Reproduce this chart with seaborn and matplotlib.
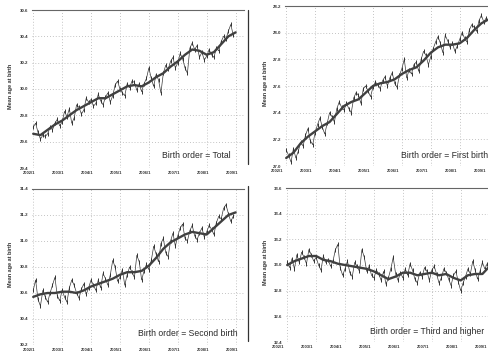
import numpy as np
import pandas as pd
import matplotlib
matplotlib.use("Agg")
import matplotlib.pyplot as plt
import matplotlib.transforms as mtransforms
import seaborn as sns
from matplotlib.lines import Line2D

sns.set_theme(style="white")
plt.rcParams['font.family'] = ['Liberation Sans', 'DejaVu Sans']

# ---------------- data ----------------
tick_labels = ["2002/1", "2003/1", "2004/1", "2005/1", "2006/1", "2007/1", "2008/1", "2009/1"]
tick_months = [0, 12, 24, 36, 48, 60, 72, 84]
trend_months = list(range(0, 85, 3))

total_monthly = [29.71, 29.74, 29.67, 29.62, 29.65, 29.64, 29.66, 29.71, 29.69, 29.74, 29.77, 29.72,
                 29.75, 29.83, 29.79, 29.85, 29.74, 29.78, 29.88, 29.86, 29.81, 29.84, 29.93, 29.90,
                 29.92, 29.87, 29.89, 29.96, 29.91, 29.88, 29.94, 29.97, 29.90, 29.95, 30.03, 30.06,
                 30.00, 29.97, 29.95, 30.04, 30.01, 30.06, 30.05, 29.99, 30.04, 29.98, 30.04, 30.08,
                 30.16, 30.08, 30.02, 30.11, 30.07, 29.97, 30.12, 30.18, 30.15, 30.21, 30.24, 30.16,
                 30.20, 30.27, 30.23, 30.16, 30.12, 30.31, 30.35, 30.30, 30.33, 30.24, 30.28, 30.22,
                 30.25, 30.30, 30.26, 30.24, 30.31, 30.29, 30.36, 30.40, 30.38, 30.44, 30.49, 30.41]
total_trend = [29.66, 29.65, 29.69, 29.73, 29.76, 29.80, 29.84, 29.87, 29.90, 29.93, 29.93, 29.96,
               29.99, 30.02, 30.03, 30.02, 30.05, 30.09, 30.12, 30.17, 30.21, 30.26, 30.30, 30.29,
               30.26, 30.28, 30.34, 30.40, 30.43]

first_monthly = [27.12, 27.08, 27.03, 27.13, 27.06, 27.11, 27.18, 27.15, 27.23, 27.28, 27.19, 27.16,
                 27.25, 27.31, 27.36, 27.29, 27.24, 27.32, 27.40, 27.37, 27.33, 27.43, 27.48, 27.44,
                 27.42, 27.47, 27.43, 27.40, 27.51, 27.55, 27.53, 27.47, 27.58, 27.60, 27.56, 27.52,
                 27.59, 27.63, 27.61, 27.58, 27.64, 27.67, 27.60, 27.66, 27.70, 27.62, 27.59, 27.68,
                 27.73, 27.80, 27.66, 27.72, 27.69, 27.76, 27.78, 27.71, 27.80, 27.86, 27.83, 27.76,
                 27.82, 27.88, 27.93, 27.97, 27.92, 27.85, 27.98, 27.94, 27.89, 27.92, 27.86, 27.90,
                 27.95, 28.00, 27.96, 27.93, 28.02, 28.06, 28.04, 28.01, 28.09, 28.13, 28.08, 28.11]
first_trend = [27.06, 27.10, 27.17, 27.22, 27.26, 27.30, 27.33, 27.39, 27.45, 27.48, 27.50, 27.55,
               27.60, 27.62, 27.63, 27.65, 27.69, 27.72, 27.74, 27.79, 27.85, 27.89, 27.91, 27.91,
               27.92, 27.96, 28.02, 28.07, 28.10]

second_monthly = [30.62, 30.70, 30.55, 30.50, 30.62, 30.57, 30.53, 30.60, 30.66, 30.72, 30.58, 30.54,
                  30.62, 30.57, 30.53, 30.64, 30.70, 30.66, 30.60, 30.56, 30.63, 30.67, 30.59, 30.64,
                  30.70, 30.66, 30.62, 30.70, 30.64, 30.75, 30.71, 30.66, 30.74, 30.85, 30.80, 30.69,
                  30.72, 30.78, 30.66, 30.74, 30.80, 30.76, 30.72, 30.89, 30.84, 30.70, 30.77, 30.82,
                  30.78, 30.85, 30.96, 30.90, 30.84, 30.98, 31.02, 30.91, 30.88, 31.00, 31.06, 30.96,
                  31.04, 31.10, 31.13, 31.02, 31.00, 31.08, 31.12, 31.04, 31.01, 31.06, 31.10, 31.03,
                  31.07, 31.12, 31.09, 31.05, 31.14, 31.19, 31.17, 31.25, 31.28, 31.21, 31.15, 31.19]
second_trend = [30.57, 30.59, 30.60, 30.60, 30.61, 30.61, 30.60, 30.62, 30.65, 30.67, 30.69, 30.71,
                30.74, 30.76, 30.76, 30.77, 30.81, 30.87, 30.94, 30.99, 31.02, 31.05, 31.07, 31.06,
                31.05, 31.10, 31.15, 31.20, 31.22]

third_monthly = [33.02, 32.98, 33.05, 32.97, 33.08, 33.02, 33.10, 33.06, 33.01, 33.12, 33.08, 33.03,
                 33.06, 33.00, 32.96, 33.07, 33.02, 33.04, 32.99, 33.03, 33.12, 33.16, 32.98, 32.92,
                 32.97, 33.03, 32.94, 32.91, 33.02, 32.99, 32.95, 33.12, 33.06, 32.95, 32.99, 32.92,
                 32.90, 32.96, 32.93, 32.88, 32.95, 32.85, 32.90, 32.97, 33.06, 32.93, 32.88, 32.94,
                 32.90, 32.97, 32.92, 33.01, 32.96, 32.89, 32.86, 32.94, 32.91, 32.98, 32.95, 32.88,
                 32.96, 32.99, 32.93, 32.86, 32.90, 32.97, 32.94, 32.89, 32.84, 32.92, 32.95, 32.87,
                 32.80, 32.86, 32.91, 32.97, 32.93, 33.03, 32.96, 32.89, 32.95, 33.02, 32.97, 33.01]
third_trend = [33.00, 33.03, 33.05, 33.07, 33.07, 33.04, 33.03, 33.01, 33.00, 32.99, 32.98, 32.97,
               32.95, 32.92, 32.89, 32.91, 32.94, 32.94, 32.92, 32.93, 32.94, 32.92, 32.93, 32.90,
               32.88, 32.92, 32.93, 32.93, 32.99]

titles = ["Birth order = Total", "Birth order = First birth",
          "Birth order = Second birth", "Birth order = Third and higher"]
y_ranges = [(29.4, 30.6), (27.0, 28.2), (30.2, 31.4), (32.4, 33.6)]

# ---------------- figure ----------------
W, H = 488, 352
fig = plt.figure(figsize=(W / 100, H / 100), dpi=100)
fig.patch.set_facecolor("white")

PXM = 200 / 83.0  # pixels per month


def add_ax(left, top, bottom):
    right = left + 88.0 * PXM
    return fig.add_axes([left / W, 1 - bottom / H, (right - left) / W, (bottom - top) / H])


layout = [
    dict(left=32, top=10, bottom=168, tx=231, ty=156, ylx=11, xshift=-4),
    dict(left=285, top=6, bottom=166, tx=488, ty=155, ylx=266, xshift=-9),
    dict(left=32, top=189, bottom=345, tx=238, ty=333, ylx=11, xshift=-4),
    dict(left=286, top=188, bottom=342, tx=484, ty=331, ylx=266, xshift=-9),
]
monthly = [total_monthly, first_monthly, second_monthly, third_monthly]
trends = [total_trend, first_trend, second_trend, third_trend]

for i in range(4):
    L = layout[i]
    ax = add_ax(L["left"], L["top"], L["bottom"])
    df = pd.DataFrame({"month": np.arange(len(monthly[i])), "age": monthly[i]})
    dt = pd.DataFrame({"month": trend_months, "age": trends[i]})
    sns.lineplot(data=df, x="month", y="age", ax=ax, color="#3a3a3a", lw=0.5,
                 marker="|", markersize=2.2, markeredgewidth=0.7, markeredgecolor="#333333")
    sns.lineplot(data=dt, x="month", y="age", ax=ax, color="#404040", lw=1.7)
    y0, y1 = y_ranges[i]
    ax.set_xlim(-0.5, 87.5)
    ax.set_ylim(y0, y1)
    yt = np.round(np.linspace(y0, y1, 7), 1)
    ax.set_yticks(yt)
    ax.set_yticklabels([f"{v:.1f}" for v in yt], fontsize=3.2, fontweight="bold", color="#333333")
    ax.set_xticks(tick_months)
    ax.set_xticklabels(tick_labels, fontsize=3.0, fontweight="bold", color="#333333")
    ax.tick_params(length=0, pad=2.5)
    off = mtransforms.ScaledTranslation(L["xshift"] / 100, 0, fig.dpi_scale_trans)
    for lab in ax.get_xticklabels():
        lab.set_transform(lab.get_transform() + off)
    ax.set_xlabel("")
    ax.set_ylabel("")
    ax.grid(True, linestyle=(0, (1, 2.5)), color="#b0b0b0", lw=0.6)
    for s in ["left", "right", "bottom"]:
        ax.spines[s].set_visible(False)
    ax.spines["top"].set_color("#666666")
    ax.spines["top"].set_linewidth(0.8)
    ax.patch.set_alpha(0)
    yc = (L["top"] + L["bottom"]) / 2 - 3
    fig.text(L["ylx"] / W, 1 - yc / H, "Mean age at birth", rotation=90, ha="center", va="center",
             fontsize=4.0, fontweight="bold", color="#333333")
    fig.text(L["tx"] / W, 1 - L["ty"] / H, titles[i], ha="right", va="center",
             fontsize=6.2, color="#2a2a2a")

# scanned page border on the right half
for (ya, yb) in [(10, 164), (186, 341)]:
    fig.add_artist(Line2D([248 / W, 248 / W], [1 - ya / H, 1 - yb / H], color="#333333", lw=0.9))

fig.savefig("out.png", dpi=100, facecolor="white")
